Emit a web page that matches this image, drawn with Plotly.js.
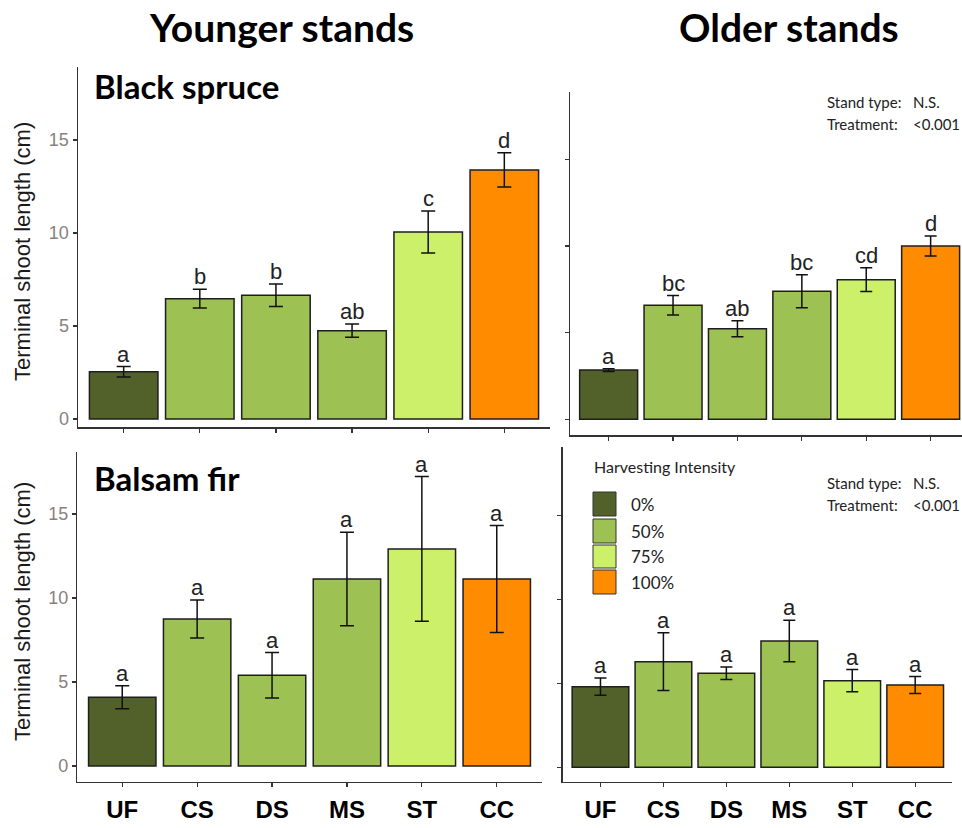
<!DOCTYPE html>
<html><head><meta charset="utf-8">
<script src="https://cdn.plot.ly/plotly-3.0.1.min.js"></script>
<style>html,body{margin:0;padding:0;background:#fff}#chart{width:962px;height:828px}</style>
</head><body><div id="chart"></div><script>
// ---- data ----
const categories = ["UF","CS","DS","MS","ST","CC"];
const intensity = ["0%","50%","50%","50%","75%","100%"];
const legendLabels = ["0%","50%","75%","100%"];
const yTicks = [0,5,10,15];

const spruceYoungMean = [2.54,6.47,6.65,4.75,10.05,13.39];
const spruceYoungSE   = [0.28,0.50,0.60,0.35,1.13,0.92];
const spruceYoungLetters = ["a","b","b","ab","c","d"];

const spruceOldMean = [2.84,6.58,5.23,7.39,8.06,10.00];
const spruceOldSE   = [0.08,0.56,0.46,0.95,0.68,0.58];
const spruceOldLetters = ["a","bc","ab","bc","cd","d"];

const firYoungMean = [4.09,8.75,5.40,11.13,12.92,11.13];
const firYoungSE   = [0.68,1.13,1.35,2.78,4.31,3.18];
const firYoungLetters = ["a","a","a","a","a","a"];

const firOldMean = [4.80,6.29,5.60,7.52,5.16,4.90];
const firOldSE   = [0.51,1.72,0.37,1.24,0.66,0.50];
const firOldLetters = ["a","a","a","a","a","a"];

const statLabels = ["Stand type:","Treatment:"];
const statValues = ["N.S.","<0.001"];

// ---- styles ----
const colorMap = {"0%":"#526129","50%":"#9dc153","75%":"#ccf06a","100%":"#ff8c00"};
const W = 962, H = 828;
const px = v => v / W;
const py = v => 1 - v / H;

const panels = [
  {mean: spruceYoungMean, se: spruceYoungSE, letters: spruceYoungLetters, xa:"x",  ya:"y",  cap:7},
  {mean: spruceOldMean,   se: spruceOldSE,   letters: spruceOldLetters,   xa:"x2", ya:"y2", cap:6},
  {mean: firYoungMean,    se: firYoungSE,    letters: firYoungLetters,    xa:"x3", ya:"y3", cap:7},
  {mean: firOldMean,      se: firOldSE,      letters: firOldLetters,      xa:"x4", ya:"y4", cap:6}
];

const barColors = intensity.map(k => colorMap[k]);
const traces = panels.map(p => ({
  type: "bar", x: categories, y: p.mean, xaxis: p.xa, yaxis: p.ya,
  width: 0.9, showlegend: false, hoverinfo: "skip",
  marker: {color: barColors, line: {color: "#1e1e1e", width: 1.5}},
  error_y: {type: "data", array: p.se, visible: true, color: "#111", thickness: 1.5, width: p.cap}
}));

const annotations = [];
panels.forEach(p => {
  categories.forEach((c, i) => {
    annotations.push({
      xref: p.xa, yref: p.ya, x: c, y: p.mean[i] + p.se[i],
      text: p.letters[i], showarrow: false, yanchor: "bottom", yshift: -2,
      font: {family: "Liberation Sans, Arial, sans-serif", size: 22, color: "#222"}
    });
  });
});

const titleFont = (s) => ({family: "Lato, Open Sans, sans-serif", size: s, color: "#000", weight: 700});
annotations.push({xref:"paper", yref:"paper", x: px(281), y: py(27), text:"<b>Younger stands</b>", showarrow:false, xanchor:"center", yanchor:"middle", font: titleFont(39)});
annotations.push({xref:"paper", yref:"paper", x: px(789), y: py(27), text:"<b>Older stands</b>", showarrow:false, xanchor:"center", yanchor:"middle", font: titleFont(39)});
annotations.push({xref:"paper", yref:"paper", x: px(92), y: py(86), text:"<b>Black spruce</b>", showarrow:false, xanchor:"left", yanchor:"middle", font: titleFont(33)});
annotations.push({xref:"paper", yref:"paper", x: px(92), y: py(478), text:"<b>Balsam fir</b>", showarrow:false, xanchor:"left", yanchor:"middle", font: titleFont(33)});

const yTitleFont = {family: "Liberation Sans, Arial, sans-serif", size: 22, color: "#1a1a1a"};
annotations.push({xref:"paper", yref:"paper", x: px(22), y: py(252), text:"Terminal shoot length (cm)", textangle:-90, showarrow:false, xanchor:"center", yanchor:"middle", font: yTitleFont});
annotations.push({xref:"paper", yref:"paper", x: px(22), y: py(612), text:"Terminal shoot length (cm)", textangle:-90, showarrow:false, xanchor:"center", yanchor:"middle", font: yTitleFont});

const smallFont = {family: "Lato, Open Sans, sans-serif", size: 15, color: "#222"};
[[102, 124], [483, 505]].forEach(rows => {
  rows.forEach((yy, j) => {
    annotations.push({xref:"paper", yref:"paper", x: px(825), y: py(yy), text: statLabels[j], showarrow:false, xanchor:"left", yanchor:"middle", font: smallFont});
    annotations.push({xref:"paper", yref:"paper", x: px(911), y: py(yy), text: statValues[j], showarrow:false, xanchor:"left", yanchor:"middle", font: smallFont});
  });
});

// legend (drawn as shapes + text)
const shapes = [];
const legTop = [492, 519, 545, 570], legBot = [516, 543, 568, 594];
annotations.push({xref:"paper", yref:"paper", x: px(592), y: py(467), text:"Harvesting Intensity", showarrow:false, xanchor:"left", yanchor:"middle", font: {family:"Lato, Open Sans, sans-serif", size:16, color:"#222"}});
legendLabels.forEach((lab, i) => {
  shapes.push({type:"rect", xref:"paper", yref:"paper", x0: px(593), x1: px(616), y0: py(legBot[i]), y1: py(legTop[i]),
    fillcolor: colorMap[lab], line: {color:"#333", width:1}});
  annotations.push({xref:"paper", yref:"paper", x: px(629), y: py((legTop[i]+legBot[i])/2), text: lab, showarrow:false, xanchor:"left", yanchor:"middle", font: {family:"Lato, Open Sans, sans-serif", size:17, color:"#222"}});
});

const axisLine = {showline:true, linecolor:"#333", linewidth:1.5, ticks:"outside", ticklen:4, tickwidth:1.2, tickcolor:"#333", showgrid:false, zeroline:false, fixedrange:true};
const xBase = Object.assign({}, axisLine, {type:"category", categoryorder:"array", categoryarray: categories});
const yBase = Object.assign({}, axisLine, {tickvals: yTicks, ticktext: yTicks.map(String),
  tickfont: {family:"Liberation Sans, Arial, sans-serif", size:18, color:"#8a7f80"}});
const xLab = {showticklabels:true, ticklabelstandoff: 2, tickfont:{family:"Liberation Sans, Arial, sans-serif", size:24, color:"#000", weight:700}};

const layout = {
  width: W, height: H, margin: {l:0, r:0, t:0, b:0},
  paper_bgcolor: "#fff", plot_bgcolor: "rgba(0,0,0,0)", showlegend: false,
  xaxis:  Object.assign({}, xBase, {domain:[px(78), px(550)], anchor:"y", range:[-0.6,5.6], showticklabels:false}),
  yaxis:  Object.assign({}, yBase, {domain:[py(427), py(67)], anchor:"x", range:[-0.43,18.92]}),
  xaxis2: Object.assign({}, xBase, {domain:[px(570), 1], anchor:"y2", range:[-0.6,5.487], showticklabels:false}),
  yaxis2: Object.assign({}, yBase, {domain:[py(435), py(92)], anchor:"x2", range:[-0.906,18.89], showticklabels:false}),
  xaxis3: Object.assign({}, xBase, xLab, {domain:[px(77.3), px(541.7)], anchor:"y3", range:[-0.6,5.6]}),
  yaxis3: Object.assign({}, yBase, {domain:[py(781.7), py(452)], anchor:"x3", range:[-0.935,18.69]}),
  xaxis4: Object.assign({}, xBase, xLab, {domain:[px(562.7), px(951.7)], anchor:"y4", range:[-0.6,5.58]}),
  yaxis4: Object.assign({}, yBase, {domain:[py(781.7), py(447)], anchor:"x4", range:[-0.857,19.07], showticklabels:false}),
  annotations: annotations,
  shapes: shapes
};

Plotly.newPlot("chart", traces, layout, {staticPlot: true, displayModeBar: false});
</script></body></html>
